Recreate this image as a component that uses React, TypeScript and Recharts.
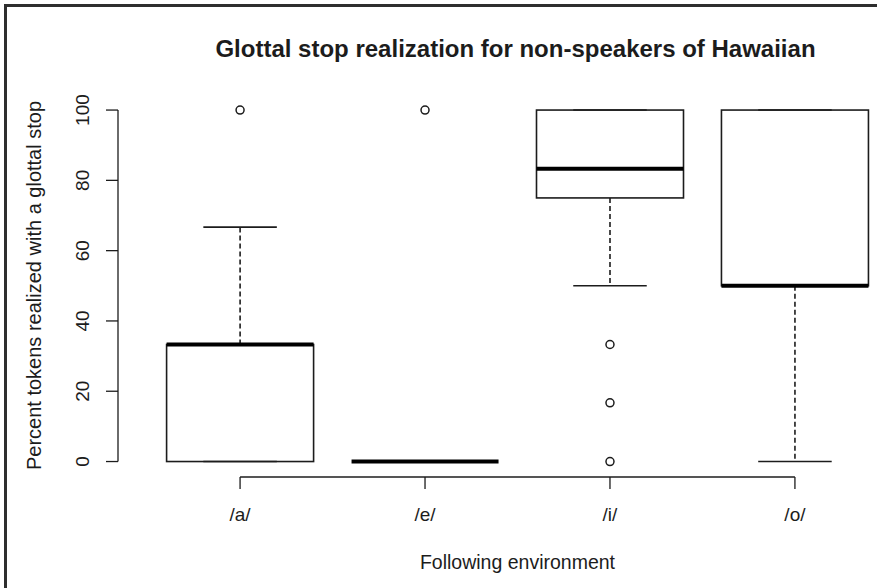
import React from 'react';
import { ComposedChart, Bar, Scatter, XAxis, YAxis, ReferenceLine, Label } from 'recharts';

// one box per following environment (R boxplot stats)
const environments = ['/a/', '/e/', '/i/', '/o/'];
const positions = [1, 2, 3, 4];
const whiskerLow = [0, 0, 50, 0];
const boxLow = [0, 0, 75, 50];
const medians = [33.3, 0, 83.3, 50];
const boxHigh = [33.3, 0, 100, 100];
const whiskerHigh = [66.7, 0, 100, 100];

const outliers = [
  { pos: 1, value: 100 },
  { pos: 2, value: 100 },
  { pos: 3, value: 33.3 },
  { pos: 3, value: 16.7 },
  { pos: 3, value: 0 },
];

const yTicks = [0, 20, 40, 60, 80, 100];

const INK = '#1c1c1c';
const FONT = '"Liberation Sans", Arial, sans-serif';

const boxData = positions.map((pos, i) => ({
  pos,
  env: environments[i],
  whiskerLow: whiskerLow[i],
  boxLow: boxLow[i],
  median: medians[i],
  boxHigh: boxHigh[i],
  whiskerHigh: whiskerHigh[i],
  // full 0..100 span, the shape maps values inside it
  span: [0, 100],
}));

const BoxShape = (props: any) => {
  const { x, y, width, height, payload } = props;
  const py = (v: number) => y + (height * (100 - v)) / 100;
  const cx = x + width / 2;
  const capHalf = width / 4;
  const d = payload;
  return (
    <g>
      {d.whiskerHigh > d.boxHigh && (
        <line x1={cx} x2={cx} y1={py(d.boxHigh)} y2={py(d.whiskerHigh)} stroke={INK} strokeWidth={1.6} strokeDasharray="5 3" />
      )}
      {d.whiskerLow < d.boxLow && (
        <line x1={cx} x2={cx} y1={py(d.boxLow)} y2={py(d.whiskerLow)} stroke={INK} strokeWidth={1.6} strokeDasharray="5 3" />
      )}
      <line x1={cx - capHalf} x2={cx + capHalf} y1={py(d.whiskerHigh)} y2={py(d.whiskerHigh)} stroke={INK} strokeWidth={1.6} />
      <line x1={cx - capHalf} x2={cx + capHalf} y1={py(d.whiskerLow)} y2={py(d.whiskerLow)} stroke={INK} strokeWidth={1.6} />
      <rect
        x={x}
        y={py(d.boxHigh)}
        width={width}
        height={py(d.boxLow) - py(d.boxHigh)}
        fill="none"
        stroke={INK}
        strokeWidth={1.6}
      />
      <line x1={x} x2={x + width} y1={py(d.median)} y2={py(d.median)} stroke="#000" strokeWidth={4} />
    </g>
  );
};

const OutlierShape = (props: any) => (
  <circle cx={props.cx} cy={props.cy} r={4} fill="none" stroke={INK} strokeWidth={1.5} />
);

const XTick = (props: any) => {
  const { x, y, payload } = props;
  return (
    <text x={x} y={y} dy={30} textAnchor="middle" fontSize={19} fontFamily={FONT} fill={INK}>
      {environments[payload.value - 1]}
    </text>
  );
};

const YTick = (props: any) => {
  const { x, y, payload } = props;
  return (
    <text transform={`translate(${x - 15},${y}) rotate(-90)`} textAnchor="middle" fontSize={19} fontFamily={FONT} fill={INK}>
      {payload.value}
    </text>
  );
};

export default function App() {
  return (
    <div style={{ position: 'absolute', left: 0, top: 0, width: 877, height: 588, overflow: 'hidden', background: '#fff' }}>
      <div
        style={{
          position: 'absolute',
          left: 4,
          top: 4,
          width: 900,
          height: 600,
          borderLeft: '3px solid #2e2e2e',
          borderTop: '3px solid #2e2e2e',
        }}
      />
      <div
        style={{
          position: 'absolute',
          left: 0,
          top: 35,
          width: 1031,
          textAlign: 'center',
          fontFamily: FONT,
          fontWeight: 'bold',
          fontSize: 24,
          color: INK,
        }}
      >
        Glottal stop realization for non-speakers of Hawaiian
      </div>
      <div style={{ position: 'absolute', left: 0, top: 0 }}>
        <ComposedChart width={917} height={588} data={boxData} margin={{ top: 96, right: 0, bottom: 0, left: 0 }}>
          <XAxis
            type="number"
            dataKey="pos"
            domain={[0.34, 4.66]}
            ticks={positions}
            height={111}
            axisLine={false}
            tickSize={12}
            tickLine={{ stroke: INK, strokeWidth: 1.3 }}
            tick={<XTick />}
            interval={0}
          >
            <Label
              content={(p: any) => {
                const vb = p.viewBox;
                return (
                  <text x={vb.x + vb.width / 2} y={vb.y + 92} textAnchor="middle" fontSize={19.5} fontFamily={FONT} fill={INK}>
                    Following environment
                  </text>
                );
              }}
            />
          </XAxis>
          <YAxis
            type="number"
            domain={[-4.4, 104]}
            ticks={yTicks}
            width={118}
            axisLine={false}
            tickSize={12}
            tickLine={{ stroke: INK, strokeWidth: 1.3 }}
            tick={<YTick />}
            interval={0}
          >
            <Label
              content={(p: any) => {
                const vb = p.viewBox;
                return (
                  <text
                    transform={`translate(41,${vb.y + vb.height / 2 - 1}) rotate(-90)`}
                    textAnchor="middle"
                    fontSize={20}
                    fontFamily={FONT}
                    fill={INK}
                  >
                    Percent tokens realized with a glottal stop
                  </text>
                );
              }}
            />
          </YAxis>
          <ReferenceLine
            segment={[{ x: 0.34, y: 0 }, { x: 0.34, y: 100 }]}
            stroke={INK}
            strokeWidth={1.3}
            ifOverflow="visible"
          />
          <ReferenceLine
            segment={[{ x: 1, y: -4.4 }, { x: 4, y: -4.4 }]}
            stroke={INK}
            strokeWidth={1.3}
            ifOverflow="visible"
          />
          <Bar dataKey="span" barSize={147} shape={<BoxShape />} isAnimationActive={false} />
          <Scatter data={outliers} dataKey="value" shape={<OutlierShape />} isAnimationActive={false} />
        </ComposedChart>
      </div>
    </div>
  );
}
